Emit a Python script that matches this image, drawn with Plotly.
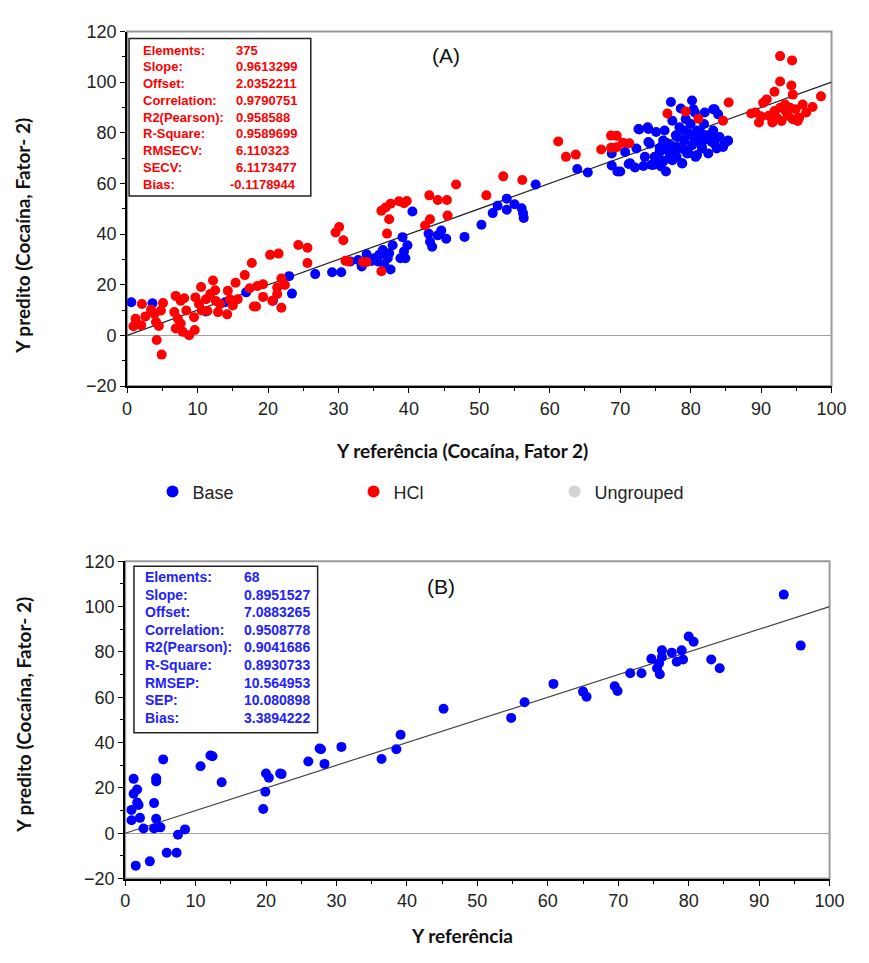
import plotly.graph_objects as go

W, H = 869, 963

# ---------------- Data: panel A (cross-validation) ----------------
base_x_A = [0.6, 3.6, 11.2, 13.9, 16.9, 20.7, 23.0, 23.4, 26.7, 29.1, 30.4, 31.7, 32.8, 33.3, 34.0,
            34.7, 35.1, 35.6, 35.8, 36.3, 36.5, 37.0, 37.2, 37.4, 37.7, 38.8, 39.1, 39.3, 39.5, 39.8,
            40.5, 42.8, 43.0, 43.3, 44.1, 44.6, 45.3, 47.9, 50.3, 51.9, 52.6, 53.9, 53.9, 55.0, 56.0,
            56.2, 56.3, 58.0, 63.9, 65.4,
            68.8, 68.8, 69.6, 70.0, 70.7, 71.2, 71.4, 72.1, 72.3, 72.6, 72.7, 73.3, 73.5, 73.9, 74.0,
            74.0, 74.2, 74.4, 74.7, 74.9, 75.1, 75.3, 75.6, 75.8, 76.0, 76.1, 76.3, 76.5, 76.9, 77.0,
            77.2, 77.2, 77.4, 77.4, 77.7, 77.9, 78.1, 78.1, 78.4, 78.6, 78.8, 78.8, 79.1, 79.1, 79.3,
            79.5, 79.7, 79.8, 80.0, 80.2, 80.2, 80.4, 80.4, 80.6, 80.7, 80.9, 80.9, 81.1, 81.6, 81.6,
            81.6, 81.9, 82.0, 82.3, 82.5, 83.0, 83.0, 83.2, 83.2, 83.4, 83.4, 83.7, 83.9, 84.1, 84.6,
            84.8, 85.3, 85.3, 75.6, 76.6, 77.8, 79.0, 80.6, 82.2, 78.0, 76.2]
base_y_A = [13.1, 12.7, 9.4, 13.1, 17.0, 13.7, 23.4, 16.5, 24.2, 24.9, 24.9, 29.2, 29.8, 27.2, 32.0,
            29.4, 30.5, 29.2, 31.8, 33.7, 27.9, 30.5, 32.4, 26.0, 35.6, 30.5, 38.8, 33.1, 30.5, 35.6,
            48.9, 40.2, 37.0, 35.0, 39.5, 41.4, 38.2, 38.9, 43.7, 48.3, 51.2, 54.0, 49.6, 51.8, 50.2,
            48.3, 46.4, 59.6, 65.7, 64.3,
            71.8, 67.1, 64.7, 64.7, 72.4, 67.7, 68.0, 66.3, 73.8, 81.5, 81.3, 66.9, 70.5, 82.2, 76.4,
            81.5, 75.7, 67.4, 67.3, 70.5, 80.3, 69.9, 72.4, 66.7, 75.1, 77.0, 80.9, 64.7, 72.5, 69.9,
            92.2, 75.1, 84.8, 69.2, 71.8, 79.0, 74.4, 78.3, 82.2, 89.6, 67.9, 68.0, 77.0, 80.9, 85.4,
            71.8, 71.9, 79.6, 83.5, 92.8, 75.1, 89.3, 78.3, 88.0, 70.5, 80.9, 71.2, 77.0, 73.8, 74.4,
            79.6, 83.5, 88.0, 79.0, 71.8, 76.4, 79.0, 80.9, 89.3, 89.3, 75.7, 73.8, 87.3, 78.3, 74.4,
            75.7, 77.0, 76.8, 74.0, 76.0, 73.0, 73.5, 76.5, 77.5, 70.5, 69.0]

hcl_x_A = [0.9, 1.2, 2.0, 2.1, 2.6, 3.4, 3.9, 4.1, 4.2, 4.5, 4.9, 4.8, 5.1, 6.7, 6.9, 7.2, 6.9, 7.6,
           8.1, 7.9, 7.6, 8.4, 8.8, 9.6, 9.5, 9.7, 10.2, 10.5, 10.6, 11.2, 11.4, 11.8, 12.2, 12.5,
           12.6, 12.9, 13.2, 14.2, 14.3, 14.6, 15.0, 15.4, 15.7, 16.7, 17.4, 17.7, 18.0, 18.3, 18.5,
           19.3, 19.3, 20.3, 20.6, 21.3, 21.3, 21.5, 21.9, 21.9, 22.4, 24.3, 25.6, 25.6, 29.6, 30.1,
           30.7, 31.0, 31.4, 33.5, 34.0, 36.1, 36.1, 36.7, 37.4, 36.9, 37.2, 38.6, 39.3, 39.7, 42.3,
           42.9, 43.0, 44.1, 45.4, 45.5, 46.7, 51.0, 53.4, 56.1, 61.2, 62.3, 63.7, 67.3, 68.7, 68.7,
           69.5, 69.5, 70.4, 71.3, 76.7, 79.3, 81.1, 84.6, 85.4, 88.6, 89.7, 90.3, 90.8, 91.9, 92.7,
           92.7, 94.4, 94.3, 94.5, 92.7, 93.4, 91.1, 91.6, 92.2, 92.9, 93.8, 94.5, 94.9, 95.4, 95.9,
           96.4, 97.3, 98.5, 95.2, 94.1, 91.9, 93.5, 90.0, 89.2]
hcl_y_A = [3.6, 6.6, 4.0, 12.4, 7.5, 10.1, 8.5, 5.3, -1.8, 3.7, -7.6, 9.8, 12.8, 9.2, 15.6, 6.6, 2.7,
           13.7, 14.7, 1.4, 4.7, 9.8, 0.1, 2.1, 7.2, 15.0, 12.4, 19.1, 9.8, 14.3, 9.6, 16.3, 21.7,
           17.8, 13.6, 9.2, 12.4, 8.3, 17.6, 14.3, 11.8, 20.8, 14.3, 23.8, 18.6, 28.6, 11.4, 11.4,
           19.5, 20.2, 15.2, 31.8, 13.7, 16.3, 18.9, 32.3, 22.5, 10.9, 19.9, 35.7, 34.6, 28.6, 40.6,
           42.8, 37.6, 29.5, 29.2, 29.0, 29.0, 25.3, 49.2, 50.5, 52.0, 40.2, 45.9, 53.0, 52.2, 53.1,
           43.4, 55.3, 45.9, 53.5, 53.5, 47.3, 59.6, 55.3, 62.8, 61.4, 76.6, 70.5, 71.4, 73.4, 78.9,
           74.1, 74.3, 78.8, 76.1, 75.9, 87.6, 88.4, 85.6, 84.8, 92.0, 87.6, 84.1, 91.9, 93.2, 96.2,
           110.3, 100.3, 108.6, 98.7, 95.1, 89.9, 91.2, 86.7, 84.1, 86.0, 84.7, 86.7, 85.4, 89.3,
           86.0, 91.2, 88.0, 90.2, 94.4, 84.7, 89.9, 88.6, 88.6, 86.5, 88.0]

# ---------------- Data: panel B (prediction) ----------------
base_x_B = [0.9, 0.9, 1.2, 1.2, 1.7, 1.7, 1.9, 2.1, 2.6, 1.5, 3.5, 4.1, 4.1, 4.4, 4.4, 4.4, 5.0, 5.4,
            5.9, 7.3, 7.5, 8.5, 10.7, 12.1, 13.7, 19.6, 19.9, 20.0, 20.4, 22.0, 22.2, 26.0, 27.8,
            28.3, 30.7, 36.4, 38.5, 39.1, 45.2, 54.8, 56.7, 60.8, 65.0, 65.5, 69.5, 69.9, 71.7, 73.3,
            74.7, 75.5, 75.8, 75.9, 76.2, 76.2, 77.6, 78.3, 79.0, 79.2, 80.0, 80.7, 83.2, 84.4, 93.5,
            95.9, 12.4, 27.6]
base_y_B = [10.3, 5.7, 24.0, 17.4, 19.3, 13.6, 12.5, 6.8, 2.1, -14.3, -12.4, 13.3, 2.1, 24.3, 22.8,
            6.4, 2.6, 32.6, -8.6, -8.6, -0.7, 1.7, 29.6, 34.3, 22.5, 10.7, 18.3, 26.4, 24.5, 26.4,
            26.1, 31.7, 37.1, 30.6, 38.1, 32.8, 37.1, 43.5, 54.9, 50.9, 57.8, 65.9, 62.5, 60.2, 64.9,
            62.8, 70.6, 70.6, 77.0, 72.8, 75.0, 70.2, 80.7, 77.8, 79.7, 75.7, 80.7, 76.7, 86.8, 84.5,
            76.7, 72.8, 105.3, 82.8, 34.0, 37.4]

target_x = [0, 100]
target_y = [0, 100]

stats_labels_A = ["Elements:", "Slope:", "Offset:", "Correlation:", "R2(Pearson):", "R-Square:",
                  "RMSECV:", "SECV:", "Bias:"]
stats_values_A = ["375", "0.9613299", "2.0352211", "0.9790751", "0.958588", "0.9589699",
                  "6.110323", "6.1173477", "-0.1178944"]
stats_labels_B = ["Elements:", "Slope:", "Offset:", "Correlation:", "R2(Pearson):", "R-Square:",
                  "RMSEP:", "SEP:", "Bias:"]
stats_values_B = ["68", "0.8951527", "7.0883265", "0.9508778", "0.9041686", "0.8930733",
                  "10.564953", "10.080898", "3.3894222"]

BLUE = "#0000ff"
RED = "#ff0000"
GREY = "#d3d3d3"


def px_x(p):
    return p / W


def px_y(p):
    return 1 - p / H


fig = go.Figure()

# Panel A
fig.add_trace(go.Scatter(x=target_x, y=target_y, mode="lines", line=dict(color="#222", width=1.2),
                         showlegend=False, hoverinfo="skip", xaxis="x", yaxis="y"))
fig.add_trace(go.Scatter(x=base_x_A, y=base_y_A, mode="markers", name="Base",
                         marker=dict(color=BLUE, size=10), xaxis="x", yaxis="y"))
fig.add_trace(go.Scatter(x=hcl_x_A, y=hcl_y_A, mode="markers", name="HCl",
                         marker=dict(color=RED, size=10), xaxis="x", yaxis="y"))
fig.add_trace(go.Scatter(x=[None], y=[None], mode="markers", name="Ungrouped",
                         marker=dict(color=GREY, size=10), xaxis="x", yaxis="y"))

# Panel B
fig.add_trace(go.Scatter(x=target_x, y=target_y, mode="lines", line=dict(color="#444", width=1.2),
                         showlegend=False, hoverinfo="skip", xaxis="x2", yaxis="y2"))
fig.add_trace(go.Scatter(x=base_x_B, y=base_y_B, mode="markers", showlegend=False,
                         marker=dict(color=BLUE, size=10), xaxis="x2", yaxis="y2"))

tickfont = dict(family="Liberation Sans, Arial", size=18, color="#222")
common_x = dict(range=[0, 100], dtick=10, tick0=0, ticks="outside", ticklen=5, tickcolor="#000",
                showline=True, linecolor="#000", linewidth=2, showgrid=False, zeroline=False,
                tickfont=tickfont, mirror=False,
                minor=dict(dtick=5, ticks="outside", ticklen=3, tickcolor="#000"))
common_y = dict(range=[-20, 120], dtick=20, tick0=0, ticks="outside", ticklen=5, tickcolor="#000",
                showline=True, linecolor="#000", linewidth=2, showgrid=False,
                zeroline=True, zerolinecolor="#a0a0a0", zerolinewidth=1,
                tickfont=tickfont, mirror=False,
                minor=dict(dtick=10, ticks="outside", ticklen=3, tickcolor="#000"))

fig.update_layout(
    width=W, height=H,
    margin=dict(l=0, r=0, t=0, b=0),
    paper_bgcolor="white", plot_bgcolor="white",
    xaxis=dict(domain=[px_x(125), px_x(846)], anchor="y", **common_x),
    yaxis=dict(domain=[px_y(384), px_y(22)], anchor="x", **common_y),
    xaxis2=dict(domain=[px_x(123), px_x(844)], anchor="y2", **common_x),
    yaxis2=dict(domain=[px_y(887), px_y(563)], anchor="x2", **common_y),
    legend=dict(orientation="h", x=px_x(151), y=px_y(492), xanchor="left", yanchor="middle",
                font=dict(family="Liberation Sans, Arial", size=18, color="#222"),
                entrywidth=156, entrywidthmode="pixels", itemsizing="constant",
                bgcolor="rgba(0,0,0,0)"),
    showlegend=True,
)

shapes = []
# grey frames (top/right)
for (l, t, r, b) in [(125, 22, 846, 384), (123, 563, 844, 887)]:
    shapes.append(dict(type="rect", xref="paper", yref="paper", x0=px_x(l), x1=px_x(r),
                       y0=px_y(b), y1=px_y(t), line=dict(color="#9a9a9a", width=2), layer="below"))
# stats boxes
shapes.append(dict(type="rect", xref="paper", yref="paper", x0=px_x(127), x1=px_x(313),
                   y0=px_y(190), y1=px_y(29), line=dict(color="#222", width=1.5),
                   fillcolor="white"))
shapes.append(dict(type="rect", xref="paper", yref="paper", x0=px_x(132), x1=px_x(320),
                   y0=px_y(738), y1=px_y(568), line=dict(color="#222", width=1.5),
                   fillcolor="white"))
fig.update_layout(shapes=shapes)

ann = []
statfont_A = dict(family="Liberation Sans, Arial", size=13, color=RED)
statfont_B = dict(family="Liberation Sans, Arial", size=14, color="#2222ff")
for i, (lab, val) in enumerate(zip(stats_labels_A, stats_values_A)):
    yy = 41 + i * 17.1
    ann.append(dict(x=px_x(139), y=px_y(yy), xref="paper", yref="paper", text="<b>" + lab + "</b>",
                    showarrow=False, xanchor="left", yanchor="middle", font=statfont_A))
    vx = 234 if not val.startswith("-") else 228
    ann.append(dict(x=px_x(vx), y=px_y(yy), xref="paper", yref="paper", text="<b>" + val + "</b>",
                    showarrow=False, xanchor="left", yanchor="middle", font=statfont_A))
for i, (lab, val) in enumerate(zip(stats_labels_B, stats_values_B)):
    yy = 579 + i * 18
    ann.append(dict(x=px_x(141), y=px_y(yy), xref="paper", yref="paper", text="<b>" + lab + "</b>",
                    showarrow=False, xanchor="left", yanchor="middle", font=statfont_B))
    ann.append(dict(x=px_x(243), y=px_y(yy), xref="paper", yref="paper", text="<b>" + val + "</b>",
                    showarrow=False, xanchor="left", yanchor="middle", font=statfont_B))

panel_font = dict(family="Liberation Sans, Arial", size=21, color="#111")
ann.append(dict(x=px_x(451), y=px_y(46), xref="paper", yref="paper", text="(A)", showarrow=False,
                xanchor="center", yanchor="middle", font=panel_font))
ann.append(dict(x=px_x(446), y=px_y(589), xref="paper", yref="paper", text="(B)", showarrow=False,
                xanchor="center", yanchor="middle", font=panel_font))

title_font = dict(family="Lato, Calibri, sans-serif", size=19, color="#111")
ann.append(dict(x=px_x(468), y=px_y(450), xref="paper", yref="paper",
                text="<b>Y referência (Cocaína, Fator 2)</b>", showarrow=False,
                xanchor="center", yanchor="middle", font=title_font))
ann.append(dict(x=px_x(468), y=px_y(945), xref="paper", yref="paper",
                text="<b>Y referência</b>", showarrow=False,
                xanchor="center", yanchor="middle", font=title_font))
ann.append(dict(x=px_x(18), y=px_y(231), xref="paper", yref="paper", textangle=-90,
                text="<b>Y predito (Cocaína, Fator- 2)</b>", showarrow=False,
                xanchor="center", yanchor="middle", font=title_font))
ann.append(dict(x=px_x(18), y=px_y(720), xref="paper", yref="paper", textangle=-90,
                text="<b>Y predito (Cocaína, Fator- 2)</b>", showarrow=False,
                xanchor="center", yanchor="middle", font=title_font))
fig.update_layout(annotations=ann)

fig.write_html("out.html")
